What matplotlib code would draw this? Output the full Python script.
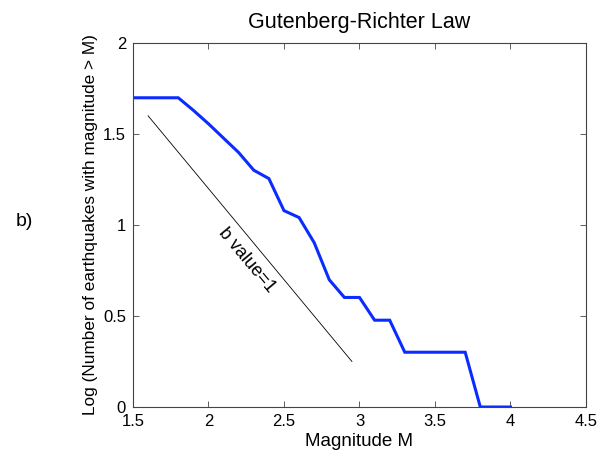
import matplotlib
matplotlib.use('Agg')
import matplotlib.pyplot as plt

plt.rcParams['font.family'] = ['Liberation Sans', 'DejaVu Sans']

# cumulative counts, log10
mag = [1.5, 1.6, 1.7, 1.8, 1.9, 2.0, 2.1, 2.2, 2.3, 2.4, 2.5, 2.6, 2.7, 2.8,
       2.9, 3.0, 3.1, 3.2, 3.3, 3.4, 3.5, 3.6, 3.7, 3.8, 3.9, 4.0]
logn = [1.699, 1.699, 1.699, 1.699, 1.63, 1.556, 1.477, 1.398, 1.301, 1.255,
        1.079, 1.041, 0.903, 0.699, 0.602, 0.602, 0.477, 0.477, 0.301, 0.301,
        0.301, 0.301, 0.301, 0.0, 0.0, 0.0]

# reference slope b = 1
ref_x = [1.6, 2.95]
ref_y = [1.6, 0.25]

xticks = [1.5, 2, 2.5, 3, 3.5, 4, 4.5]
yticks = [0, 0.5, 1, 1.5, 2]

fig = plt.figure(figsize=(6.05, 4.53), dpi=100)
ax = fig.add_axes([0.2198, 0.1015, 0.7488, 0.8036])

ax.plot(mag, logn, color='#0a2cff', lw=2.2, solid_joinstyle='miter')
ax.plot(ref_x, ref_y, color='black', lw=0.6)
ax.text(2.25, 0.805, 'b value=1', rotation=-50, ha='center', va='center', fontsize=13)

ax.set_xlim(1.5, 4.5)
ax.set_ylim(0, 2)
ax.set_xticks(xticks)
ax.set_xticklabels([f'{t:g}' for t in xticks])
ax.set_yticks(yticks)
ax.set_yticklabels([f'{t:g}' for t in yticks])
ax.tick_params(direction='in', top=True, right=True, labelsize=12, length=4,
               width=0.6, color='#444444', pad=5)
for s in ax.spines.values():
    s.set_color('#444444')
    s.set_linewidth(0.8)

ax.set_title('Gutenberg-Richter Law', fontsize=15.5, pad=11)
ax.set_xlabel('Magnitude M', fontsize=13.5)
ax.xaxis.set_label_coords(0.5, -0.071)
ax.set_ylabel('Log (Number of earthquakes with magnitude > M)', fontsize=12.4)
ax.yaxis.set_label_coords(-0.078, 0.5)
fig.text(0.040, 0.51, 'b)', fontsize=14, ha='center', va='center')

fig.savefig('out.png', dpi=100)
